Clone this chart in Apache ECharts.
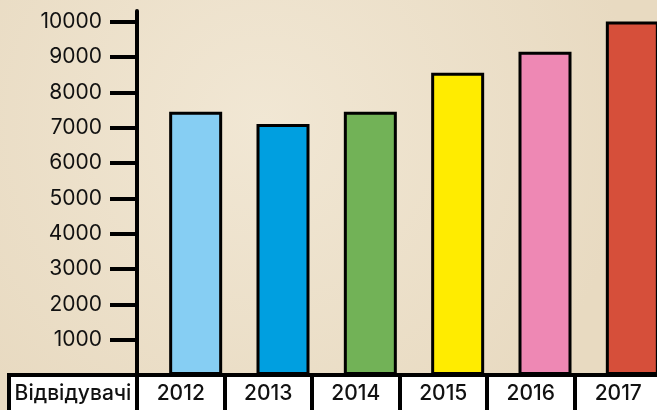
<!DOCTYPE html>
<html><head><meta charset="utf-8">
<script src="https://cdn.jsdelivr.net/npm/echarts@6/dist/echarts.min.js"></script>
<style>html,body{margin:0;padding:0;background:#eee3cf}#c{width:657px;height:410px}</style>
</head><body><div id="c"></div>
<script>
const years = ['2012','2013','2014','2015','2016','2017'];
const visitors = [7450, 7100, 7450, 8550, 9150, 10000];
const barColors = ['#86CEF3','#009FE0','#72B257','#FFEC00','#EE88B4','#D64F3A'];
const yTicks = [1000,2000,3000,4000,5000,6000,7000,8000,9000,10000];
const rowTitle = ['Відвідувачі'];

const chart = echarts.init(document.getElementById('c'));
const font = 'Inter, "Noto Sans", sans-serif';
chart.setOption({
  backgroundColor: {
    type:'radial', x:0.4, y:0.3, r:0.9,
    colorStops:[{offset:0,color:'#f1e7d4'},{offset:1,color:'#e8dac1'}]
  },
  animation:false,
  grid:[
    {left:152, right:-19, top:11, bottom:35, outerBoundsMode:'none'},
    {left:137, right:-5, top:375, bottom:-20, outerBoundsMode:'none', show:true, backgroundColor:'#fff', borderColor:'#000', borderWidth:4},
    {left:9, width:128, top:375, bottom:-20, outerBoundsMode:'none', show:true, backgroundColor:'#fff', borderColor:'#000', borderWidth:4}
  ],
  xAxis:[
    {gridIndex:0, type:'category', data:years, show:false},
    {gridIndex:1, type:'category', data:years, position:'top',
      axisLine:{show:false}, axisTick:{show:false},
      splitLine:{show:true, lineStyle:{color:'#000', width:4}},
      axisLabel:{inside:true, margin:8, color:'#111', fontSize:21, fontWeight:500, fontFamily:font}},
    {gridIndex:2, type:'category', data:rowTitle, position:'top',
      axisLine:{show:false}, axisTick:{show:false},
      axisLabel:{inside:true, margin:8, color:'#111', fontSize:21, fontWeight:500, fontFamily:font}}
  ],
  yAxis:[
    {gridIndex:0, type:'value', min:0, max:10300, offset:15,
      axisLine:{show:true, lineStyle:{color:'#000', width:4}},
      axisTick:{show:true, customValues:yTicks, length:27, lineStyle:{color:'#000', width:4}},
      axisLabel:{customValues:yTicks, formatter:(v)=>String(v), margin:35, color:'#111', fontSize:21, fontFamily:font},
      splitLine:{show:false}},
    {gridIndex:1, show:false},
    {gridIndex:2, show:false}
  ],
  series:[{
    type:'bar', xAxisIndex:0, yAxisIndex:0, barWidth:53,
    data: visitors.map((v,i)=>({value:v, itemStyle:{color:barColors[i]}})),
    itemStyle:{borderColor:'#000', borderWidth:3},
    z:1
  }]
});
</script></body></html>
